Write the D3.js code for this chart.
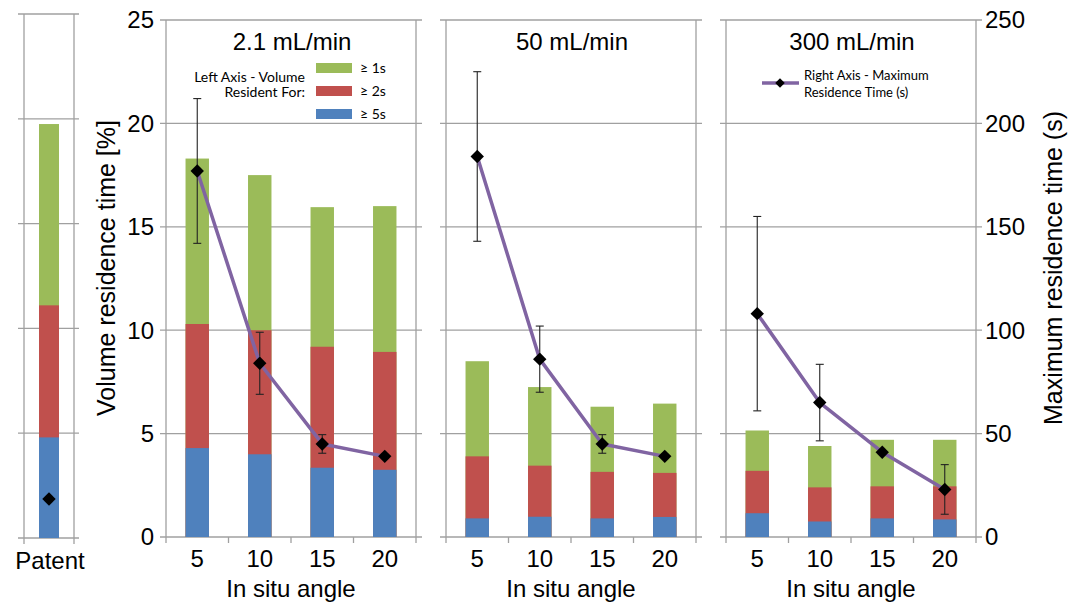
<!DOCTYPE html>
<html>
<head>
<meta charset="utf-8">
<script src="https://cdn.jsdelivr.net/npm/d3@7"></script>
<style>
  body { margin: 0; background: #fff; }
  text { font-family: "Liberation Sans", Arial, sans-serif; fill: #000; }
  .legend-text { font-family: Lato, "Open Sans", sans-serif; }
</style>
</head>
<body>
<script>
// data
const angles = [5, 10, 15, 20];
const flowRates = ["2.1 mL/min", "50 mL/min", "300 mL/min"];
// volume resident for >= 1s / 2s / 5s [%] (left axis), one row per flow rate
const volume1s = [[18.3, 17.5, 15.95, 16.0], [8.5, 7.25, 6.3, 6.45], [5.15, 4.4, 4.7, 4.7]];
const volume2s = [[10.3, 10.0, 9.2, 8.95], [3.9, 3.45, 3.15, 3.1], [3.2, 2.4, 2.45, 2.45]];
const volume5s = [[4.3, 4.0, 3.35, 3.25], [0.9, 0.98, 0.9, 0.97], [1.15, 0.75, 0.9, 0.85]];
// maximum residence time [s] (right axis) and error bar half-widths
const maxTime = [[177, 84, 45, 39], [184, 86, 45, 39], [108, 65, 41, 23]];
const maxTimeErr = [[35, 15, 4.5, 0], [41, 16, 4.5, 0], [47, 18.5, 0, 12]];
// patent (reference) vessel
const patentVolume = [19.75, 11.1, 4.8];  // >=1s, >=2s, >=5s
const patentMaxTime = 18.6;
const leftTicks = [0, 5, 10, 15, 20, 25];
const rightTicks = [0, 50, 100, 150, 200, 250];

const colors = ["#9bbb59", "#c0504d", "#4f81bd"];
const seriesLabels = ["\u2265 1s", "\u2265 2s", "\u2265 5s"];
const lineColor = "#8064a2";
const gridColor = "#a0a0a0";

const svg = d3.select("body").append("svg")
    .attr("width", 1077)
    .attr("height", 604);

const yLeft = d3.scaleLinear().domain([0, 25]).range([537, 20]);
const yRight = d3.scaleLinear().domain([0, 250]).range([537, 20]);
const yPatent = d3.scaleLinear().domain([0, 25]).range([538, 14]);
const yPatentRight = d3.scaleLinear().domain([0, 250]).range([538, 14]);

const diamond = d3.symbol().type(d3.symbolSquare).size(90);

// ---- patent panel ----
const pLeft = 24, pRight = 74;
const patent = svg.append("g");
patent.selectAll(".grid")
    .data(leftTicks)
    .enter().append("line")
    .attr("x1", pLeft - 6).attr("x2", pRight + 5)
    .attr("y1", d => yPatent(d)).attr("y2", d => yPatent(d))
    .attr("stroke", gridColor).attr("stroke-width", 1.3);
[pLeft, pRight].forEach(x => {
    patent.append("line")
        .attr("x1", x).attr("x2", x)
        .attr("y1", yPatent(25)).attr("y2", yPatent(0) + 6)
        .attr("stroke", gridColor).attr("stroke-width", 1.3);
});
patent.selectAll(".bar")
    .data(patentVolume)
    .enter().append("rect")
    .attr("x", 39).attr("width", 20)
    .attr("y", d => yPatent(d))
    .attr("height", d => yPatent(0) - yPatent(d))
    .attr("fill", (d, i) => colors[i]);
patent.append("path")
    .attr("d", diamond)
    .attr("transform", `translate(49,${yPatentRight(patentMaxTime)}) rotate(45)`)
    .attr("fill", "#000");
patent.append("text")
    .attr("x", 50).attr("y", 569)
    .style("text-anchor", "middle").style("font-size", "24px")
    .text("Patent");

// ---- left & right axes labels ----
svg.selectAll(".ltick")
    .data(leftTicks)
    .enter().append("text")
    .attr("x", 154).attr("y", d => yLeft(d))
    .attr("dy", "0.35em")
    .style("text-anchor", "end").style("font-size", "24px")
    .text(d => d);
svg.selectAll(".rtick")
    .data(rightTicks)
    .enter().append("text")
    .attr("x", 985).attr("y", d => yRight(d))
    .attr("dy", "0.35em")
    .style("text-anchor", "start").style("font-size", "24px")
    .text(d => d);

svg.append("text")
    .attr("transform", "translate(115,268) rotate(-90)")
    .style("text-anchor", "middle").style("font-size", "25px")
    .text("Volume residence time [%]");
svg.append("text")
    .attr("transform", "translate(1062,268) rotate(-90)")
    .style("text-anchor", "middle").style("font-size", "25px")
    .text("Maximum residence time (s)");

// ---- the three flow-rate panels ----
const panelLeft = [166, 446, 726];
const panelWidth = 250;

flowRates.forEach((flow, i) => {
    const x0 = panelLeft[i], x1 = x0 + panelWidth;
    const g = svg.append("g");
    const x = d3.scaleBand().domain(angles).range([x0, x1]);
    const bw = x.bandwidth();
    const barW = bw * 0.375;
    const cx = a => x(a) + bw / 2;

    // gridlines
    g.selectAll(".grid")
        .data(leftTicks)
        .enter().append("line")
        .attr("x1", x0 - 6).attr("x2", x1 + 6)
        .attr("y1", d => yLeft(d)).attr("y2", d => yLeft(d))
        .attr("stroke", gridColor).attr("stroke-width", 1.3);
    [x0, x1].forEach(xv => {
        g.append("line")
            .attr("x1", xv).attr("x2", xv)
            .attr("y1", yLeft(25)).attr("y2", yLeft(0) + 6)
            .attr("stroke", gridColor).attr("stroke-width", 1.3);
    });
    // x ticks between categories
    g.selectAll(".xtick")
        .data(angles.slice(1))
        .enter().append("line")
        .attr("x1", d => x(d)).attr("x2", d => x(d))
        .attr("y1", yLeft(0)).attr("y2", yLeft(0) + 6)
        .attr("stroke", gridColor).attr("stroke-width", 1.3);

    // stacked bars (cumulative values, tallest first)
    [volume1s[i], volume2s[i], volume5s[i]].forEach((vals, s) => {
        g.selectAll(".bar" + s)
            .data(vals)
            .enter().append("rect")
            .attr("x", (d, j) => cx(angles[j]) - barW / 2)
            .attr("width", barW)
            .attr("y", d => yLeft(d))
            .attr("height", d => yLeft(0) - yLeft(d))
            .attr("fill", colors[s]);
    });

    const pts = angles.map((a, j) => ({ a: a, v: maxTime[i][j], e: maxTimeErr[i][j] }));

    // error bars
    const eb = g.selectAll(".err")
        .data(pts.filter(d => d.e > 0))
        .enter().append("g");
    eb.append("line")
        .attr("x1", d => cx(d.a)).attr("x2", d => cx(d.a))
        .attr("y1", d => yRight(d.v + d.e)).attr("y2", d => yRight(d.v - d.e))
        .attr("stroke", "#222").attr("stroke-width", 1.1);
    [1, -1].forEach(sgn => {
        eb.append("line")
            .attr("x1", d => cx(d.a) - 4).attr("x2", d => cx(d.a) + 4)
            .attr("y1", d => yRight(d.v + sgn * d.e)).attr("y2", d => yRight(d.v + sgn * d.e))
            .attr("stroke", "#222").attr("stroke-width", 1.1);
    });

    // line of maximum residence time
    g.append("path")
        .datum(pts)
        .attr("fill", "none")
        .attr("stroke", lineColor)
        .attr("stroke-width", 3.5)
        .attr("stroke-linejoin", "round")
        .attr("d", d3.line().x(d => cx(d.a)).y(d => yRight(d.v)));
    g.selectAll(".marker")
        .data(pts)
        .enter().append("path")
        .attr("d", diamond)
        .attr("transform", d => `translate(${cx(d.a)},${yRight(d.v)}) rotate(45)`)
        .attr("fill", "#000");

    // tick labels and titles
    g.selectAll(".xlabel")
        .data(angles)
        .enter().append("text")
        .attr("x", d => cx(d)).attr("y", 567)
        .style("text-anchor", "middle").style("font-size", "24px")
        .text(d => d);
    g.append("text")
        .attr("x", (x0 + x1) / 2).attr("y", 597)
        .style("text-anchor", "middle").style("font-size", "24px")
        .text("In situ angle");
    g.append("text")
        .attr("x", (x0 + x1) / 2 + 1).attr("y", 50)
        .style("text-anchor", "middle").style("font-size", "24px")
        .text(flow);
});

// ---- legend: left axis (panel 1) ----
const legL = svg.append("g");
legL.append("text").attr("class", "legend-text")
    .attr("x", 305).attr("y", 82)
    .style("text-anchor", "end").style("font-size", "14px")
    .text("Left Axis - Volume");
legL.append("text").attr("class", "legend-text")
    .attr("x", 305).attr("y", 97)
    .style("text-anchor", "end").style("font-size", "14px")
    .text("Resident For:");
seriesLabels.forEach((lab, s) => {
    legL.append("rect")
        .attr("x", 316).attr("y", 63 + s * 23)
        .attr("width", 36).attr("height", 10)
        .attr("fill", colors[s]);
    legL.append("text").attr("class", "legend-text")
        .attr("x", 360).attr("y", 73 + s * 23)
        .style("font-size", "14px")
        .text(lab);
});

// ---- legend: right axis (panel 3) ----
const legR = svg.append("g");
legR.append("line")
    .attr("x1", 762).attr("x2", 799)
    .attr("y1", 83).attr("y2", 83)
    .attr("stroke", lineColor).attr("stroke-width", 3.5);
legR.append("path")
    .attr("d", d3.symbol().type(d3.symbolSquare).size(45))
    .attr("transform", "translate(780,83) rotate(45)")
    .attr("fill", "#000");
legR.append("text").attr("class", "legend-text")
    .attr("x", 804).attr("y", 80)
    .style("font-size", "13px")
    .text("Right Axis - Maximum");
legR.append("text").attr("class", "legend-text")
    .attr("x", 804).attr("y", 97)
    .style("font-size", "13px")
    .text("Residence Time (s)");
</script>
</body>
</html>
